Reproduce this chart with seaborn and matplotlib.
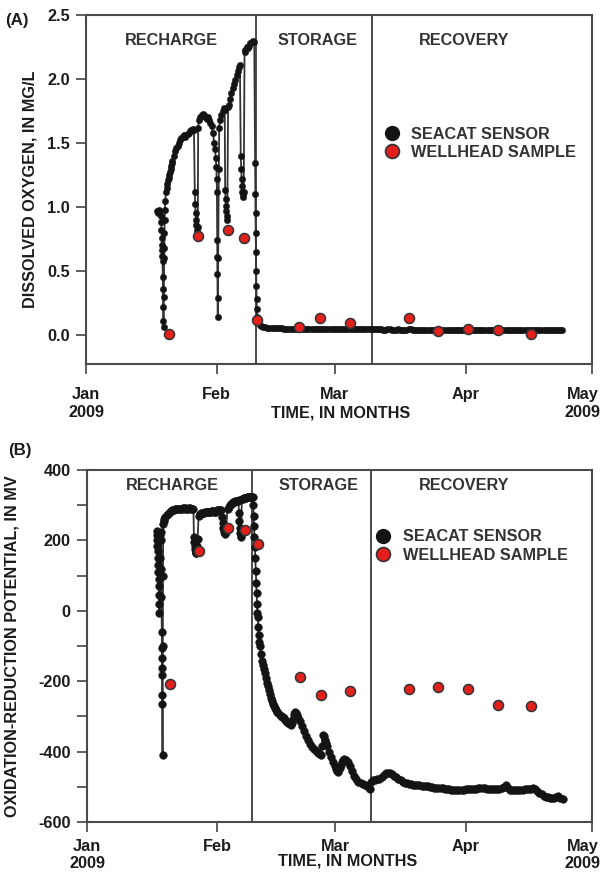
import numpy as np
import pandas as pd
import matplotlib
matplotlib.use("Agg")
import matplotlib.pyplot as plt
import matplotlib.transforms as mtransforms
from matplotlib.lines import Line2D
import seaborn as sns

START = pd.Timestamp("2009-01-01")

# ---------------------------------------------------------------------------
# Wellhead samples (days after 1 Jan 2009) and laboratory values
sample_day = [19.7, 26.6, 33.6, 37.5, 40.6, 50.5, 55.5, 62.6, 76.6, 83.5, 90.5, 97.6, 105.5]
do_sample = [0.01, 0.77, 0.82, 0.76, 0.12, 0.06, 0.13, 0.09, 0.13, 0.03, 0.05, 0.04, 0.01]
orp_sample = [-209, 169, 236, 229, 190, -189, -240, -229, -221, -216, -221, -269, -270]

# ---------------------------------------------------------------------------
# SeaCAT dissolved oxygen (mg/L)
do_recharge_day = [16.8, 17.0, 17.2, 17.4, 17.6, 17.75, 17.85, 17.9, 17.95, 18.0, 18.05, 18.1,
                   18.15, 18.2, 18.25, 18.3, 18.35, 18.4, 18.45, 18.5, 18.55, 18.6, 18.65, 18.7,
                   18.8, 19.0, 19.15, 19.3, 19.45, 19.6, 19.75, 19.9, 20.05, 20.2, 20.35, 20.5,
                   20.8, 21.1, 21.4, 21.7, 22.0, 22.3,
                   22.6, 22.9, 23.2, 23.5, 23.8, 24.1, 24.4, 24.7, 25.0, 25.3, 25.6, 25.8, 25.9,
                   26.0, 26.1, 26.2, 26.3, 26.4, 26.5, 26.6, 26.8, 27.1, 27.4, 27.7, 28.0, 28.3,
                   28.6, 28.9, 29.2, 29.5, 29.8, 30.1, 30.4, 30.6, 30.8, 30.9, 31.0, 31.05, 31.1,
                   31.13, 31.16, 31.2, 31.25, 31.35, 31.5, 31.6, 31.8, 32.1, 32.4, 32.7, 32.9,
                   33.0, 33.1, 33.2, 33.3, 33.4, 33.5, 33.7, 33.9, 34.2, 34.5, 34.8, 35.1, 35.4,
                   35.7, 36.0, 36.3, 36.5, 36.7, 36.8, 36.9, 37.0, 37.1, 37.2, 37.3, 37.4, 37.6,
                   37.8, 38.1, 38.4, 38.7, 39.0, 39.3, 39.6, 39.9]
do_recharge_val = [0.97, 0.95, 0.98, 0.96, 0.97, 0.93, 0.88, 0.82, 0.76, 0.70, 0.66, 0.62,
                   0.58, 0.45, 0.36, 0.22, 0.11, 0.065, 0.30, 0.60, 0.68, 0.80, 0.90, 0.98,
                   1.05, 1.12, 1.15, 1.18, 1.21, 1.23, 1.25, 1.27, 1.30, 1.32, 1.34, 1.36,
                   1.40, 1.44, 1.46, 1.48, 1.50, 1.52,
                   1.54, 1.55, 1.56, 1.55, 1.56, 1.57, 1.58, 1.59, 1.60, 1.61, 1.60, 1.12, 1.02,
                   0.95, 0.90, 0.86, 0.82, 0.79, 0.84, 1.62, 1.68, 1.70, 1.72, 1.73, 1.72, 1.70,
                   1.69, 1.70, 1.68, 1.66, 1.63, 1.58, 1.50, 1.45, 1.38, 1.31, 1.22, 1.12, 0.74,
                   0.61, 0.48, 0.29, 0.14, 0.60, 1.30, 1.62, 1.68, 1.72, 1.75, 1.77, 1.76,
                   1.13, 1.06, 1.01, 0.97, 0.93, 0.90, 1.78, 1.80, 1.84, 1.89, 1.93, 1.96, 1.99,
                   2.03, 2.06, 2.09, 2.11, 1.40, 1.30, 1.22, 1.16, 1.12, 1.10, 1.08, 1.12, 2.21,
                   2.23, 2.25, 2.24, 2.26, 2.28, 2.29, 2.30, 2.29]

do_storage_day = [40.1, 40.15, 40.2, 40.25, 40.3, 40.35, 40.4, 40.45, 40.5, 40.6, 40.8, 41.0,
                  41.3, 41.6, 42.0, 42.5]
do_storage_val = [1.34, 1.10, 0.95, 0.80, 0.65, 0.50, 0.38, 0.28, 0.20, 0.14, 0.11, 0.09,
                  0.08, 0.07, 0.065, 0.06]

# half-day logger readings, 43.0 to 67.5 d
do_storage_tail_day = np.arange(43.0, 67.51, 0.5)
do_storage_tail_val = [0.058, 0.056, 0.055, 0.054, 0.053, 0.053, 0.052, 0.051, 0.050, 0.050,
                       0.050, 0.049, 0.049, 0.048, 0.048, 0.048, 0.048, 0.047, 0.047, 0.047,
                       0.047, 0.046, 0.046, 0.047, 0.047, 0.046, 0.046, 0.045, 0.045, 0.046,
                       0.046, 0.045, 0.045, 0.045, 0.045, 0.044, 0.044, 0.045, 0.045, 0.044,
                       0.044, 0.044, 0.044, 0.043, 0.043, 0.044, 0.044, 0.043, 0.043, 0.043]

# half-day logger readings, 68.0 to 113.0 d
do_recovery_day = np.arange(68.0, 113.01, 0.5)
do_recovery_val = [0.043, 0.043, 0.044, 0.043, 0.043, 0.042, 0.042, 0.043, 0.043, 0.042,
                   0.042, 0.042, 0.043, 0.042, 0.042, 0.042, 0.042, 0.043, 0.043, 0.042,
                   0.042, 0.041, 0.041, 0.042, 0.042, 0.042, 0.042, 0.041, 0.041, 0.042,
                   0.042, 0.041, 0.041, 0.041, 0.041, 0.042, 0.042, 0.041, 0.041, 0.041,
                   0.041, 0.040, 0.040, 0.041, 0.041, 0.041, 0.041, 0.040, 0.040, 0.041,
                   0.041, 0.040, 0.040, 0.040, 0.040, 0.041, 0.041, 0.040, 0.040, 0.040,
                   0.040, 0.040, 0.040, 0.041, 0.041, 0.040, 0.040, 0.040, 0.040, 0.039,
                   0.039, 0.040, 0.040, 0.040, 0.040, 0.039, 0.039, 0.040, 0.040, 0.039,
                   0.039, 0.040, 0.040, 0.039, 0.039, 0.039, 0.039, 0.040, 0.040, 0.039,
                   0.039]

# ---------------------------------------------------------------------------
# SeaCAT oxidation-reduction potential (mV)
orp_recharge_day = [16.6, 16.65, 16.7, 16.75, 16.8, 16.85, 16.9, 16.95, 17.0, 17.05, 17.1, 17.15,
                    17.2, 17.3, 17.4, 17.5, 17.6, 17.65, 17.7, 17.75, 17.8, 17.82, 17.84, 17.86,
                    17.88, 17.9, 17.95, 18.0, 18.05, 18.1, 18.25, 18.4, 18.65, 18.9, 19.15, 19.4,
                    19.7, 20.0, 20.25, 20.5, 20.75, 21.0, 21.25,
                    21.5, 21.75, 22.0, 22.25, 22.5, 22.75, 23.0, 23.25, 23.5, 23.75, 24.0, 24.25,
                    24.5, 24.75, 25.0, 25.3, 25.4, 25.5, 25.6, 25.7,
                    25.8, 25.9, 26.0, 26.1, 26.2, 26.3, 26.5, 26.8, 27.0, 27.2, 27.4, 27.6, 27.8,
                    28.0, 28.2, 28.4, 28.6, 28.8, 29.0,
                    29.2, 29.4, 29.6, 29.8, 30.0, 30.2, 30.4, 30.6, 30.8, 31.0, 31.2, 31.4, 31.6,
                    31.9, 32.0, 32.2, 32.4, 32.6, 32.8,
                    33.0, 33.4, 33.7, 34.0, 34.2, 34.4, 34.6, 34.8, 35.0, 35.2, 35.4, 35.6, 35.8,
                    36.0, 36.1, 36.2, 36.3, 36.4,
                    36.5, 36.6, 36.8, 37.0, 37.2, 37.4, 37.6, 37.8, 38.0, 38.2, 38.4, 38.6, 38.8,
                    39.0, 39.2, 39.4]
orp_recharge_val = [228, 215, 200, 185, 170, 150, 130, 110, 90, 70, 45, 20,
                    -5, 150, 215, 225, 200, 120, 40, -60, -105, -133, -162, -181,
                    -238, -266, -409, -100, 100, 248, 256, 262, 267, 271, 275, 278,
                    281, 283, 285, 286, 287, 288, 288,
                    289, 289, 290, 290, 290, 291, 291, 290, 291, 290, 290, 291,
                    291, 290, 290, 289, 209, 195, 185, 175,
                    168, 163, 165, 172, 185, 205, 268, 274, 276, 277, 278, 279, 279,
                    280, 281, 281, 282, 282, 281,
                    280, 282, 283, 283, 284, 282, 280, 282, 284, 285, 285, 286, 286,
                    286, 267, 250, 235, 225, 219,
                    225, 290, 296, 300, 302, 305, 307, 309, 310, 311, 312, 313, 313,
                    314, 277, 255, 235, 220,
                    209, 215, 318, 319, 320, 320, 321, 321, 322, 322, 323, 323, 324,
                    324, 324, 323]

orp_storage_day = [39.5, 39.6, 39.7, 39.8, 39.9, 40.0, 40.1, 40.2, 40.3, 40.4, 40.5, 40.6,
                   40.7, 40.8, 40.9, 41.0, 41.25, 41.5, 41.75, 42.0, 42.25, 42.5, 42.75, 43.0,
                   43.25, 43.5, 43.75, 44.0, 44.25, 44.5, 44.75, 45.0, 45.25, 45.5, 45.75, 46.0,
                   46.25, 46.5, 46.75, 47.0, 47.25, 47.5, 47.75, 48.0, 48.25, 48.5, 48.75, 49.0,
                   49.25, 49.5, 49.75, 50.0, 50.25, 50.5, 51.0, 51.5, 52.0, 52.5, 53.0, 53.5,
                   54.0, 54.5, 55.0, 55.25, 55.5, 55.75, 56.0, 56.25, 56.5, 56.75, 57.0, 57.5,
                   58.0, 58.5, 59.0, 59.25, 59.5, 59.75, 60.0, 60.25, 60.5, 60.75, 61.0, 61.5,
                   62.0, 62.5, 63.0, 63.5, 64.0, 64.5, 65.0, 65.5, 66.0, 66.5, 67.0, 67.25]
orp_storage_val = [300, 270, 240, 209, 180, 150, 114, 80, 50, 19, -5, -19,
                   -45, -70, -88, -100, -122, -142, -155, -166, -178, -192, -205, -215,
                   -225, -236, -247, -257, -265, -271, -277, -282, -287, -291, -295, -298,
                   -301, -303, -305, -309, -312, -315, -318, -320, -322, -324, -320, -308,
                   -294, -287, -290, -297, -305, -312, -327, -342, -356, -368, -378, -386,
                   -393, -399, -405, -408, -410, -385, -352, -356, -366, -376, -385, -400,
                   -415, -429, -442, -449, -454, -457, -447, -437, -429, -425, -422, -423,
                   -430, -442, -455, -468, -479, -486, -490, -493, -495, -499, -503, -505]

# half-day logger readings, 67.5 to 113.0 d
orp_recovery_day = np.arange(67.5, 113.01, 0.5)
orp_recovery_val = [-486, -482, -481, -479, -477, -472, -466, -461, -460, -462,
                    -464, -468, -472, -477, -481, -485, -488, -490, -492, -493,
                    -494, -495, -496, -496, -497, -498, -499, -499, -500, -501,
                    -502, -502, -503, -503, -504, -505, -506, -507, -508, -508,
                    -509, -509, -508, -508, -508, -507, -507, -506, -506, -505,
                    -505, -504, -504, -503, -504, -505, -506, -506, -507, -507,
                    -507, -506, -504, -501, -496, -502, -509, -509, -509, -508,
                    -508, -508, -508, -507, -507, -506, -506, -503, -507, -512,
                    -518, -521, -525, -528, -530, -533, -533, -531, -528, -526,
                    -532, -535]

# Phase boundaries (days) and label positions
do_phase_bounds = [40.4, 67.9]
orp_phase_bounds = [39.1, 67.4]
phase_names = ["RECHARGE", "STORAGE", "RECOVERY"]
phase_label_day = [20.2, 54.9, 89.7]

month_ticks = ["2009-01-01", "2009-02-01", "2009-03-01", "2009-04-01", "2009-05-01"]
month_labels = ["Jan\n2009", "Feb", "Mar", "Apr", "May\n2009"]

do_ticks = [0.0, 0.5, 1.0, 1.5, 2.0, 2.5]
do_tick_labels = ["0.0", "0.5", "1.0", "1.5", "2.0", "2.5"]
orp_ticks = [-600, -500, -400, -300, -200, -100, 0, 100, 200, 300, 400]
orp_tick_labels = ["-600", "", "-400", "", "-200", "", "0", "", "200", "", "400"]

# ---------------------------------------------------------------------------
sns.set_style("ticks")
plt.rcParams["font.family"] = ["Liberation Sans", "DejaVu Sans"]
plt.rcParams["font.weight"] = "bold"
FS = 11.7
INK = "#1c1c1c"
RED = "#e3201b"


def to_dates(days):
    return START + pd.to_timedelta(np.asarray(days, dtype=float), unit="D")


def sensor_frame(parts):
    days = np.concatenate([np.asarray(d, dtype=float) for d, _ in parts])
    vals = np.concatenate([np.asarray(v, dtype=float) for _, v in parts])
    return pd.DataFrame({"time": to_dates(days), "value": vals})


fig = plt.figure(figsize=(6.06, 8.77), dpi=100)
ax_do = fig.add_axes([86 / 606, 1 - 364 / 877, 506 / 606, 349 / 877])
ax_orp = fig.add_axes([87 / 606, 1 - 822 / 877, 505 / 606, 352 / 877])

do_df = sensor_frame([(do_recharge_day, do_recharge_val),
                      (do_storage_day, do_storage_val),
                      (do_storage_tail_day, do_storage_tail_val),
                      (do_recovery_day, do_recovery_val)])
orp_df = sensor_frame([(orp_recharge_day, orp_recharge_val),
                       (orp_storage_day, orp_storage_val),
                       (orp_recovery_day, orp_recovery_val)])
do_samples = pd.DataFrame({"time": to_dates(sample_day), "value": do_sample})
orp_samples = pd.DataFrame({"time": to_dates(sample_day), "value": orp_sample})

panels = [
    dict(ax=ax_do, sens=do_df, samp=do_samples, bounds=do_phase_bounds, ylim=(-0.227, 2.5),
         yt=do_ticks, ytl=do_tick_labels, ylabel="DISSOLVED OXYGEN, IN MG/L",
         ylab=(-0.111, 0.5), phase_y=0.928, leg=(0.588, 0.680), xpad=9.4,
         xlab=(0.504, -0.118), ms=4.6),
    dict(ax=ax_orp, sens=orp_df, samp=orp_samples, bounds=orp_phase_bounds, ylim=(-600, 400),
         yt=orp_ticks, ytl=orp_tick_labels, ylabel="OXIDATION-REDUCTION POTENTIAL, IN MV",
         ylab=(-0.149, 0.5), phase_y=0.956, leg=(0.5705, 0.831), xpad=4.6,
         xlab=(0.517, -0.089), ms=5.6),
]

for p in panels:
    ax = p["ax"]
    for b in p["bounds"]:
        ax.axvline(START + pd.Timedelta(days=b), color="#2b2b2b", lw=1.2, zorder=1)

    sns.lineplot(data=p["sens"], x="time", y="value", ax=ax, estimator=None, sort=False,
                 color="#333333", lw=1.3, marker="o", markersize=p["ms"],
                 markerfacecolor="#141414", markeredgecolor="#141414",
                 markeredgewidth=0.3, zorder=2)
    sns.scatterplot(data=p["samp"], x="time", y="value", ax=ax, color=RED, s=52,
                    edgecolor="#333333", linewidth=1.1, zorder=4)

    ax.set_xlim(START, pd.Timestamp("2009-05-01"))
    ax.set_ylim(*p["ylim"])
    ax.set_xticks(pd.to_datetime(month_ticks))
    ax.set_xticklabels(month_labels, fontsize=FS, fontweight="bold")
    ax.set_yticks(p["yt"])
    ax.set_yticklabels(p["ytl"], fontsize=FS, fontweight="bold")
    ax.tick_params(axis="y", direction="out", length=7.5, width=1.2, pad=4.2,
                   color="#444444", labelcolor=INK)
    ax.tick_params(axis="x", direction="out", length=7.5, width=1.2, pad=p["xpad"],
                   color="#444444", labelcolor=INK)
    # the last month label sits a little inside the right edge
    last = ax.get_xticklabels()[-1]
    last.set_transform(last.get_transform()
                       + mtransforms.ScaledTranslation(-7 / 72, 0, fig.dpi_scale_trans))
    for sp in ax.spines.values():
        sp.set_visible(True)
        sp.set_color("#4a4a4a")
        sp.set_linewidth(1.5)

    ax.set_ylabel(p["ylabel"], fontsize=FS, fontweight="bold", color=INK, va="center")
    ax.yaxis.set_label_coords(*p["ylab"])
    ax.set_xlabel("TIME, IN MONTHS", fontsize=FS, fontweight="bold", color=INK)
    ax.xaxis.set_label_coords(*p["xlab"])

    trans = mtransforms.blended_transform_factory(ax.transData, ax.transAxes)
    for name, d in zip(phase_names, phase_label_day):
        ax.text(START + pd.Timedelta(days=d), p["phase_y"], name, transform=trans,
                ha="center", va="center", fontsize=FS, fontweight="bold", color="#333333")

    handles = [
        Line2D([], [], ls="none", marker="o", ms=10, mfc="#141414", mec="#141414",
               label="SEACAT SENSOR"),
        Line2D([], [], ls="none", marker="o", ms=10, mfc=RED, mec="#333333", mew=1.2,
               label="WELLHEAD SAMPLE"),
    ]
    ax.legend(handles=handles, loc="upper left", bbox_to_anchor=p["leg"], frameon=False,
              borderaxespad=0, borderpad=0, handlelength=1.0, handletextpad=0.7,
              labelspacing=0.2, prop={"weight": "bold", "size": FS}, labelcolor="#333333")

fig.text(5 / 606, 1 - 20 / 877, "(A)", fontsize=FS + 0.5, fontweight="bold",
         ha="left", va="center", color=INK)
fig.text(8 / 606, 1 - 451 / 877, "(B)", fontsize=FS + 0.5, fontweight="bold",
         ha="left", va="center", color=INK)

fig.savefig("out.png", dpi=100)
